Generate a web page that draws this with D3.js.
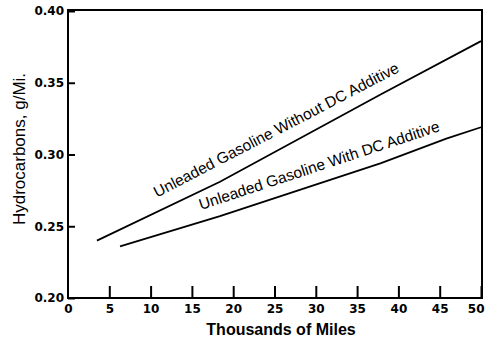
<!DOCTYPE html>
<html>
<head>
<meta charset="utf-8">
<script src="https://cdn.jsdelivr.net/npm/d3@7"></script>
<style>
  html, body { margin: 0; padding: 0; background: #fff; }
  svg { display: block; }
</style>
</head>
<body>
<svg id="chart" width="485" height="343"></svg>
<script>
// ---- data ----
const xTicks = [0, 5, 10, 15, 20, 25, 30, 35, 40, 45, 50];
const yTicks = [0.20, 0.25, 0.30, 0.35, 0.40];

const withoutMiles = [3.5, 18.4, 37.9, 50];
const withoutHC    = [0.240, 0.281, 0.342, 0.379];

const withMiles = [6.3, 18.4, 37.9, 45.8, 50];
const withHC    = [0.236, 0.257, 0.294, 0.311, 0.319];

const seriesLabels = [
  "Unleaded Gasoline Without DC Additive",
  "Unleaded Gasoline With DC Additive"
];
const xTitle = "Thousands of Miles";
const yTitle = "Hydrocarbons, g/Mi.";

// ---- layout ----
const svg = d3.select("#chart");
const L = 68, R = 482, T = 11, B = 298;

const x = d3.scaleLinear().domain([0, 50]).range([L, 481]);
const y = d3.scaleLinear().domain([0.20, 0.40]).range([B, T]);

const series = [
  withoutMiles.map((m, i) => ({ m, v: withoutHC[i] })),
  withMiles.map((m, i) => ({ m, v: withHC[i] }))
];

// frame
svg.append("rect")
  .attr("x", L).attr("y", T - 1)
  .attr("width", R - L).attr("height", B - T + 1)
  .attr("fill", "none").attr("stroke", "#000").attr("stroke-width", 2);

// y axis
const yAxis = d3.axisLeft(y).tickValues(yTicks)
  .tickFormat(d3.format(".2f")).tickSize(-7).tickPadding(4);
const gy = svg.append("g").attr("transform", `translate(${L},0)`).call(yAxis);
gy.select(".domain").remove();
gy.selectAll("line").attr("stroke", "#000").attr("stroke-width", 2);
gy.selectAll("text")
  .attr("font-family", "DejaVu Sans").attr("font-weight", "bold")
  .attr("font-size", 12).attr("fill", "#000");

// x axis
const xAxis = d3.axisBottom(x).tickValues(xTicks)
  .tickFormat(d3.format("d")).tickSize(-12).tickPadding(6);
const gx = svg.append("g").attr("transform", `translate(0,${B})`).call(xAxis);
gx.select(".domain").remove();
gx.selectAll("line").attr("stroke", "#000").attr("stroke-width", 2);
gx.selectAll(".tick").filter(d => d === 0).select("line").remove();
gx.selectAll("text")
  .attr("font-family", "DejaVu Sans").attr("font-weight", "bold")
  .attr("font-size", 12).attr("fill", "#000");
gx.selectAll(".tick").filter(d => d === 50).select("text")
  .attr("text-anchor", "end").attr("x", 3);

// lines
const line = d3.line().x(d => x(d.m)).y(d => y(d.v));
svg.selectAll("path.series").data(series).enter().append("path")
  .attr("class", "series")
  .attr("d", line)
  .attr("fill", "none").attr("stroke", "#000").attr("stroke-width", 1.8);

// labels along lines
const labelAnchors = [{ m: 25.5, v: 0.3139 }, { m: 30.6, v: 0.2889 }];
series.forEach((s, i) => {
  const a = s[0], b = s[s.length - 1];
  const ang = Math.atan2(y(b.v) - y(a.v), x(b.m) - x(a.m)) * 180 / Math.PI;
  const p = labelAnchors[i];
  svg.append("text")
    .attr("transform", `translate(${x(p.m)},${y(p.v)}) rotate(${ang})`)
    .attr("text-anchor", "middle")
    .attr("font-family", "Liberation Sans, Arial, sans-serif")
    .attr("font-size", 15.5)
    .attr("fill", "#000")
    .text(seriesLabels[i]);
});

// axis titles
svg.append("text")
  .attr("x", 281).attr("y", 335)
  .attr("text-anchor", "middle")
  .attr("font-family", "Liberation Sans, Arial, sans-serif")
  .attr("font-weight", "bold")
  .attr("font-size", 16)
  .attr("fill", "#000")
  .text(xTitle);

svg.append("text")
  .attr("transform", "translate(25,149) rotate(-90)")
  .attr("text-anchor", "middle")
  .attr("font-family", "Liberation Sans, Arial, sans-serif")
  .attr("font-size", 17)
  .attr("fill", "#000")
  .text(yTitle);
</script>
</body>
</html>
